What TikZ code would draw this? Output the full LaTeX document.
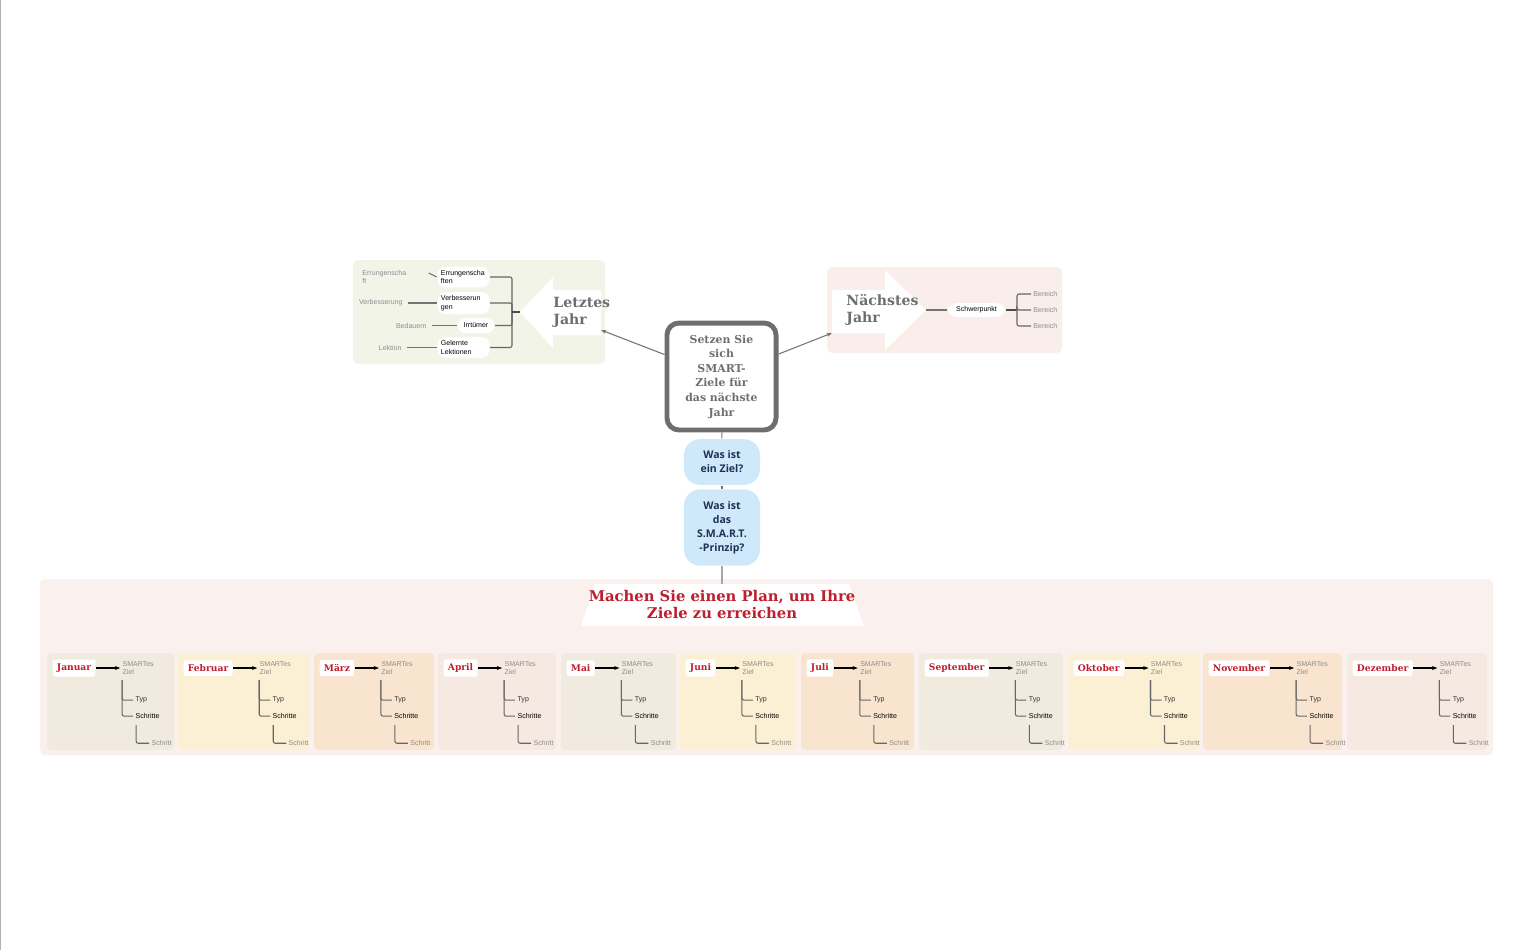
\documentclass[tikz,border=0pt]{standalone}
\usepackage{fontspec}
\setmainfont{DejaVu Serif}
\setsansfont{Liberation Sans}
\newfontfamily\blfont{Open Sans}
\usetikzlibrary{arrows.meta,calc,positioning}
\definecolor{txtgray}{RGB}{110,110,110}
\definecolor{lblgray}{RGB}{140,140,140}
\definecolor{planbg}{RGB}{250,240,237}
\definecolor{lastbg}{RGB}{242,244,232}
\definecolor{nextbg}{RGB}{250,238,235}
\definecolor{qblue}{RGB}{207,232,250}
\definecolor{qtext}{RGB}{30,50,85}
\definecolor{titred}{RGB}{190,30,45}
\definecolor{cbe}{RGB}{240,235,222}
\definecolor{cye}{RGB}{252,240,212}
\definecolor{cor}{RGB}{249,229,207}
\definecolor{cpk}{RGB}{246,233,226}

\begin{document}
\begin{tikzpicture}[
        x={(0.01cm,0cm)},
        y={(0cm,-0.01cm)},
        lbl/.style={font=\sffamily\fontsize{2}{2.4}\selectfont, text=lblgray, inner sep=0.5pt, align=left},
        dlbl/.style={lbl, text=black!80},
        pill/.style={fill=white, rounded corners=0.08cm, font=\sffamily\fontsize{2}{2.4}\selectfont, align=left, inner sep=1pt, text width=0.45cm, minimum height=0.19cm},
        conn/.style={draw=black!55, line width=0.3pt},
        quest/.style={fill=qblue, rounded corners=0.16cm, text=qtext, font=\blfont\bfseries\fontsize{3}{4}\selectfont, align=center, minimum width=0.76cm},
        mon/.style={fill=white, rounded corners=0.02cm, text=titred, font=\bfseries\fontsize{2.6}{3}\selectfont, inner sep=1.2pt},
        tree/.style={draw=black!60, line width=0.3pt, rounded corners=0.02cm},
        ]
        \useasboundingbox (0,0) rectangle (1536,950);
        \draw[black!30, line width=0.4pt] (0.5,0) -- (0.5,950);

        % centre
        \node(center)[draw=txtgray, line width=1.4pt, rounded corners=0.12cm, minimum width=1.09cm, minimum height=1.01cm, align=center, text=txtgray, font=\bfseries\fontsize{3.1}{4.15}\selectfont] at (721.5,376.5) {Setzen Sie\\sich\\SMART-\\Ziele für\\das nächste\\Jahr};
        \node(q1)[quest, minimum height=0.34cm] at (722,462) {Was ist\\ein Ziel?};
        \node(q2)[quest, minimum height=0.59cm] at (722,527.5) {Was ist\\das\\S.M.A.R.T.\\-Prinzip?};

        % last year
        \fill[lastbg, rounded corners=0.05cm] (353,260) rectangle (605,364);
        \fill[white] (520,312) -- (553,277) -- (553,290) -- (601,290) -- (601,335) -- (553,335) -- (553,348) -- cycle;
        \coordinate (ltip) at (520,312);
        \coordinate (lend) at (601,330);
        \node(last)[anchor=west, align=left, text=txtgray, font=\bfseries\fontsize{4}{4.8}\selectfont] at (541,312.5) {Letztes\\Jahr};
        \node(e1)[pill] at (463.5,277) {Errungenscha\\ften};
        \node(e2)[pill] at (463.5,303) {Verbesserun\\gen};
        \node(e3)[pill, text width=0.3cm, align=center, minimum height=0.15cm] at (476,325.5) {Irrtümer};
        \node(e4)[pill] at (463.5,347.5) {Gelernte\\Lektionen};
        \node(g1)[lbl, anchor=west] at (360,277) {Errungenscha\\ft};
        \node(g2)[lbl, anchor=east] at (405,303) {Verbesserung};
        \node(g3)[lbl, anchor=east] at (429,325.5) {Bedauern};
        \node(g4)[lbl, anchor=east] at (404,347.5) {Lektion};
        \coordinate (lj) at (512,312);
        \foreach \i in {1,...,4} {
          \draw[tree] (e\i.east) -- ++(4,0) -| (lj);
        }
        \draw[conn] (g1.east) ++(20,-4) -- (e1.west);
        \foreach \i in {2,3,4} {
          \draw[conn] (g\i.east) ++(3,0) -- (e\i.west);
        }
        \draw[black!70, line width=0.8pt] (lj) -- (ltip);
        \draw[conn, -{Stealth[length=1.5pt]}] (center) -- (lend);

        % next year
        \fill[nextbg, rounded corners=0.05cm] (827,267) rectangle (1062,353);
        \fill[white] (832,290) -- (885,290) -- (885,270) -- (926,310) -- (885,350) -- (885,333) -- (832,333) -- cycle;
        \coordinate (ntip) at (926,310);
        \coordinate (nend) at (832,333);
        \node(next)[anchor=west, align=left, text=txtgray, font=\bfseries\fontsize{4}{4.8}\selectfont] at (834,310) {Nächstes\\Jahr};
        \node(focus)[pill, text width=0.5cm, align=center, minimum height=0.12cm] at (976.5,310) {Schwerpunkt};
        \node(b1)[lbl, anchor=west] at (1031,294) {Bereich};
        \node(b2)[lbl, anchor=west] at (1031,310) {Bereich};
        \node(b3)[lbl, anchor=west] at (1031,326) {Bereich};
        \coordinate (nj) at (1017,310);
        \draw[conn] (ntip) -- (focus.west);
        \draw[black!70, line width=0.6pt] (focus.east) -- (nj);
        \foreach \i in {1,2,3} {
          \draw[tree] (nj) |- (b\i.west);
        }
        \draw[conn, -{Stealth[length=1.5pt]}] (center) -- (nend);

        % plan
        \fill[planbg, rounded corners=0.05cm] (40,579) rectangle (1493,755);
        \fill[white] (595,584) -- (849,584) -- (864,626) -- (581,626) -- cycle;
        \node(plan)[text=titred, align=center, font=\bfseries\fontsize{4.2}{5.1}\selectfont] at (722,604.5) {Machen Sie einen Plan, um Ihre\\Ziele zu erreichen};
        \coordinate (ptop) at (722,584);

        \draw[conn] (center) -- (q1);
        \draw[conn] (q1) -- (q2);
        \draw[conn, black!35, line width=0.6pt] (q2) -- (ptop);

        % months
        \foreach \xa/\xb/\m/\c [count=\i] in {47/174/Januar/cbe, 178/309/Februar/cye, 314/434/März/cor, 438/556/April/cpk, 561/676/Mai/cbe, 680/796/Juni/cye, 801/914/Juli/cor, 919/1063/September/cbe, 1068/1199/Oktober/cye, 1203/1342/November/cor, 1347/1487/Dezember/cpk} {
          \fill[\c, rounded corners=0.04cm] (\xa,653) rectangle (\xb,750);
          \node(m\i)[mon, anchor=west] at (\xa+5,668) {\m};
          \node(s\i)[lbl, right=0.24cm of m\i] {SMARTes\\Ziel};
          \node(ty\i)[dlbl, anchor=west] at ($(s\i.south west)+(13,23)$) {Typ};
          \node(sc\i)[dlbl, text=black, anchor=west] at ($(s\i.south west)+(13,39)$) {Schritte};
          \node(st\i)[lbl, anchor=west] at ($(sc\i.south west)+(16,22)$) {Schritt};
          \draw[-{Stealth[length=1.5pt]}, line width=0.4pt] (m\i) -- (s\i);
          \draw[tree] ($(s\i.south west)+(2,3)$) |- (ty\i.west);
          \draw[tree] ($(s\i.south west)+(2,3)$) |- (sc\i.west);
          \draw[tree] ($(sc\i.south west)+(3,4)$) |- (st\i.west);
        }
      \end{tikzpicture}
\end{document}
